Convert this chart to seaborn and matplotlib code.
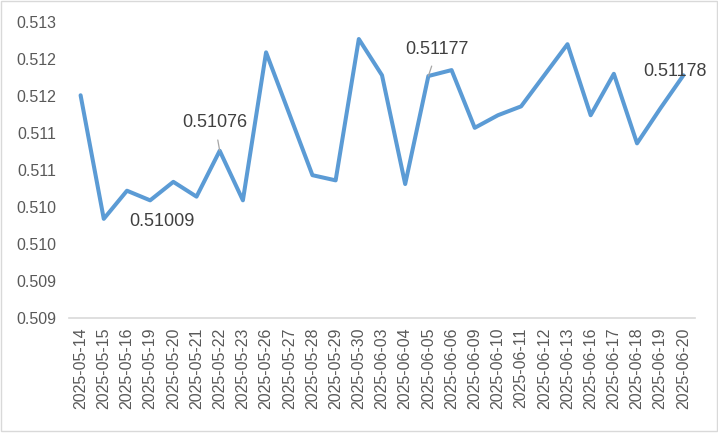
import pandas as pd
import matplotlib
matplotlib.use('Agg')
import matplotlib.pyplot as plt
from matplotlib.patches import Rectangle
import seaborn as sns

dates = ['2025-05-14', '2025-05-15', '2025-05-16', '2025-05-19', '2025-05-20',
         '2025-05-21', '2025-05-22', '2025-05-23', '2025-05-26', '2025-05-27',
         '2025-05-28', '2025-05-29', '2025-05-30', '2025-06-03', '2025-06-04',
         '2025-06-05', '2025-06-06', '2025-06-09', '2025-06-10', '2025-06-11',
         '2025-06-12', '2025-06-13', '2025-06-16', '2025-06-17', '2025-06-18',
         '2025-06-19', '2025-06-20']
values = [0.51151, 0.50984, 0.51022, 0.51009, 0.51034,
          0.51014, 0.51076, 0.51009, 0.51209, 0.51126,
          0.51043, 0.51036, 0.51227, 0.51178, 0.51031,
          0.51177, 0.51185, 0.51107, 0.51124, 0.51136,
          0.51178, 0.51220, 0.51124, 0.51180, 0.51086,
          0.51133, 0.51178]

y_ticks = [0.5085, 0.5090, 0.5095, 0.5100, 0.5105, 0.5110, 0.5115, 0.5120, 0.5125]
y_tick_labels = ['0.509', '0.509', '0.510', '0.510', '0.511', '0.511', '0.512', '0.512', '0.513']

# labelled points: (date, text, offset in pixels, leader line)
labels = [('2025-05-19', '0.51009', (12, -21), False),
          ('2025-05-22', '0.51076', (-5, 28), True),
          ('2025-06-05', '0.51177', (9, 27), True),
          ('2025-06-20', '0.51178', (-8, 4), False)]

df = pd.DataFrame({'date': dates, 'value': values})

sns.set_style('white')
plt.rcParams['font.family'] = ['Liberation Sans', 'DejaVu Sans']

fig = plt.figure(figsize=(7.18, 4.34), dpi=100)
ax = fig.add_axes([69 / 718, 1 - 318 / 434, 626 / 718, 296 / 434])

sns.lineplot(data=df, x='date', y='value', sort=False, color='#5B9BD5',
             linewidth=2.9, ax=ax)

ax.set_xlim(-0.5, len(dates) - 0.5)
ax.set_ylim(y_ticks[0], y_ticks[-1])
ax.set_yticks(y_ticks)
ax.set_yticklabels(y_tick_labels)
ax.set_xlabel('')
ax.set_ylabel('')
ax.tick_params(axis='x', rotation=90, labelsize=11.5, colors='#595959', length=0, pad=7)
ax.tick_params(axis='y', labelsize=11.5, colors='#595959', length=0, pad=9)

for side in ['top', 'right', 'left']:
    ax.spines[side].set_visible(False)
ax.spines['bottom'].set_color('#D9D9D9')
ax.spines['bottom'].set_linewidth(1.2)

for d, txt, off, leader in labels:
    i = dates.index(d)
    props = dict(arrowstyle='-', color='#A6A6A6', lw=0.9, shrinkA=4, shrinkB=0) if leader else None
    ax.annotate(txt, xy=(i, values[i]), xytext=off, textcoords='offset pixels',
                ha='center', va='center', fontsize=13, color='#404040',
                arrowprops=props, annotation_clip=False)

fig.patches.append(Rectangle((0.5 / 718, 3 / 434), 716 / 718, 430.5 / 434,
                             transform=fig.transFigure, fill=False,
                             edgecolor='#D9D9D9', linewidth=1))

fig.savefig('out.png', dpi=100)
